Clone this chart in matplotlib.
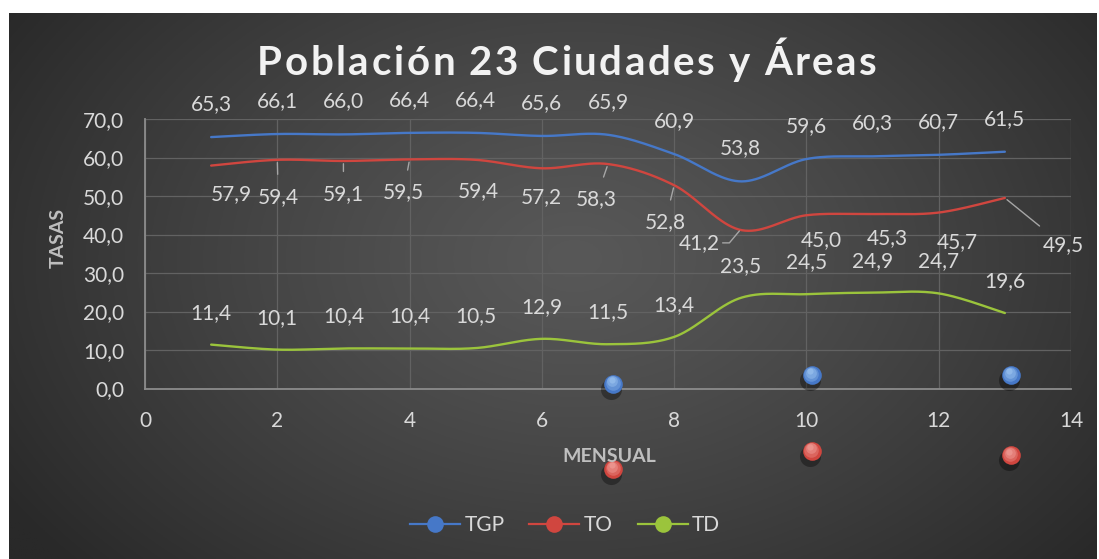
import numpy as np
import matplotlib
matplotlib.use('Agg')
import matplotlib.pyplot as plt
from matplotlib.lines import Line2D
from matplotlib.transforms import ScaledTranslation

plt.rcParams['font.family'] = ['Lato', 'DejaVu Sans']

# datos
months = [1, 2, 3, 4, 5, 6, 7, 8, 9, 10, 11, 12, 13]
tgp = [65.3, 66.1, 66.0, 66.4, 66.4, 65.6, 65.9, 60.9, 53.8, 59.6, 60.3, 60.7, 61.5]
to = [57.9, 59.4, 59.1, 59.5, 59.4, 57.2, 58.3, 52.8, 41.2, 45.0, 45.3, 45.7, 49.5]
td = [11.4, 10.1, 10.4, 10.4, 10.5, 12.9, 11.5, 13.4, 23.5, 24.5, 24.9, 24.7, 19.6]
series_names = ['TGP', 'TO', 'TD']
title = 'Población 23 Ciudades y Áreas'

# puntos sueltos (esferas) que aparecen en el grafico
extra_x = [7.08, 10.08, 13.09]
extra_tgp = [1.2, 3.5, 3.5]
extra_to = [-20.9, -16.2, -17.3]

# posiciones de etiquetas de TO (pixeles respecto al punto)
to_dx = [20, 1, 0, -6, 3, 0, -12, -9, -41, 15, 15, 19, 58]
to_dy = [-29, -37, -33, -33, -31, -29, -35, -37, -13, -25, -24, -30, -47]
to_leader = [1, 2, 3, 6, 7, 8, 12]

c_tgp = '#4678C8'
c_to = '#D0463F'
c_td = '#9BC43C'
txt = '#D9D9D9'
fs = 15


def smooth(xs, ys, n=40):
    # curva suavizada tipo Excel (Bezier con tangentes Catmull-Rom)
    p = np.column_stack([xs, ys]).astype(float)
    out = []
    for i in range(len(p) - 1):
        p0 = p[i - 1] if i > 0 else p[i]
        p1, p2 = p[i], p[i + 1]
        p3 = p[i + 2] if i + 2 < len(p) else p[i + 1]
        c1 = p1 + (p2 - p0) / 6.0
        c2 = p2 - (p3 - p1) / 6.0
        t = np.linspace(0, 1, n)[:, None]
        seg = ((1 - t) ** 3) * p1 + 3 * ((1 - t) ** 2) * t * c1 + 3 * (1 - t) * t ** 2 * c2 + t ** 3 * p2
        out.append(seg if i == 0 else seg[1:])
    out = np.vstack(out)
    return out[:, 0], out[:, 1]


def fmt(v):
    return ('%.1f' % v).replace('.', ',')


fig = plt.figure(figsize=(10.99, 5.59), dpi=100, facecolor='white')

# fondo con degradado
bg = fig.add_axes([9 / 1099, 0, 1088 / 1099, 546 / 559])
yy, xx = np.mgrid[0:1:300j, 0:1:600j]
r = np.sqrt(((xx - 0.52) / 0.62) ** 2 + ((yy - 0.45) / 0.85) ** 2)
v = 0x58 - (0x58 - 0x29) * np.clip(r, 0, 1) ** 1.2
img = np.dstack([v, v, v]) / 255.0
bg.imshow(img, aspect='auto', extent=[0, 1, 0, 1], origin='upper')
bg.set_axis_off()

ax = fig.add_axes([145 / 1099, (559 - 388.5) / 559, 926 / 1099, 269.5 / 559])
ax.set_facecolor('none')

for vals, col in [(tgp, c_tgp), (to, c_to), (td, c_td)]:
    sx, sy = smooth(months, vals)
    ax.plot(sx, sy, color=col, lw=1.7, zorder=3, solid_capstyle='round')

for x, val in zip(months, tgp):
    ax.annotate(fmt(val), (x, val), xytext=(0, 33), textcoords='offset pixels',
                ha='center', va='center', color=txt, fontsize=fs)
for x, val in zip(months, td):
    ax.annotate(fmt(val), (x, val), xytext=(0, 32), textcoords='offset pixels',
                ha='center', va='center', color=txt, fontsize=fs)
for i, (x, val) in enumerate(zip(months, to)):
    props = None
    if i in to_leader:
        props = dict(arrowstyle='-', color='#A6A6A6', lw=1.0, shrinkA=7, shrinkB=2)
        if i == 8:
            props = dict(arrowstyle='-', color='#A6A6A6', lw=1.0, shrinkA=0, shrinkB=1,
                         relpos=(1.0, 0.5), connectionstyle='angle,angleA=0,angleB=50,rad=0')
    ax.annotate(fmt(val), (x, val), xytext=(to_dx[i], to_dy[i]), textcoords='offset pixels',
                ha='center', va='center', color=txt, fontsize=fs, arrowprops=props)


def spheres(xs, ys, col, light):
    sh = ax.transData + ScaledTranslation(-0.02, -0.05, fig.dpi_scale_trans)
    ax.scatter(xs, ys, s=230, color='black', alpha=0.35, lw=0, transform=sh, clip_on=False, zorder=4)
    ax.scatter(xs, ys, s=180, color=col, lw=0, clip_on=False, zorder=5)
    for k, (s, a) in enumerate([(110, 0.35), (60, 0.45), (20, 0.6)]):
        tr = ax.transData + ScaledTranslation(-0.005 * (k + 1), 0.012 * (k + 1), fig.dpi_scale_trans)
        ax.scatter(xs, ys, s=s, color=light, alpha=a, lw=0, transform=tr, clip_on=False, zorder=6)


spheres(extra_x, extra_tgp, c_tgp, '#9CC3F0')
spheres(extra_x, extra_to, c_to, '#F0A09A')

ax.set_xlim(0, 14)
ax.set_ylim(0, 70)
ax.set_xticks(range(0, 15, 2))
ax.set_yticks(range(0, 71, 10))
ax.set_yticklabels([fmt(t) for t in range(0, 71, 10)])
ax.tick_params(length=0, labelcolor=txt, labelsize=fs)
ax.tick_params(axis='x', pad=16)
ax.tick_params(axis='y', pad=15)
ax.grid(color='#626262', lw=0.9, zorder=0)
for s in ['top', 'right']:
    ax.spines[s].set_visible(False)
for s in ['left', 'bottom']:
    ax.spines[s].set_color('#8C8C8C')
    ax.spines[s].set_linewidth(1.3)

# titulo con espaciado entre letras
renderer = fig.canvas.get_renderer()
tkw = dict(fontsize=29, fontweight='bold', color='#F2F2F2', va='baseline', ha='left')
widths = []
for ch in title:
    t = fig.text(0, 0, ch if ch != ' ' else 'i', **tkw)
    widths.append(t.get_window_extent(renderer).width * (0.85 if ch == ' ' else 1.0))
    t.remove()
target_w = 620.0
gap = (target_w - sum(widths)) / (len(title) - 1)
xpos = 567 - target_w / 2
for ch, w in zip(title, widths):
    if ch != ' ':
        fig.text(xpos / 1099, 1 - 75 / 559, ch, **tkw)
    xpos += w + gap

fig.text(58 / 1099, 1 - 238 / 559, 'TASAS', rotation=90, ha='center', va='center',
         fontsize=14, fontweight='bold', color='#BFBFBF')
fig.text(609 / 1099, 1 - 457 / 559, 'MENSUAL', ha='center', va='center',
         fontsize=14, fontweight='bold', color='#BFBFBF')

handles = [Line2D([], [], color=c, lw=1.6, marker='o', markersize=12, markeredgewidth=0)
           for c in (c_tgp, c_to, c_td)]
fig.legend(handles, series_names, loc='center', bbox_to_anchor=(565 / 1099, 1 - 525 / 559),
           ncol=3, frameon=False, labelcolor=txt, fontsize=fs, handlelength=2.4,
           columnspacing=1.2, handletextpad=0.2)

fig.savefig('out.png', dpi=100, facecolor='white')
